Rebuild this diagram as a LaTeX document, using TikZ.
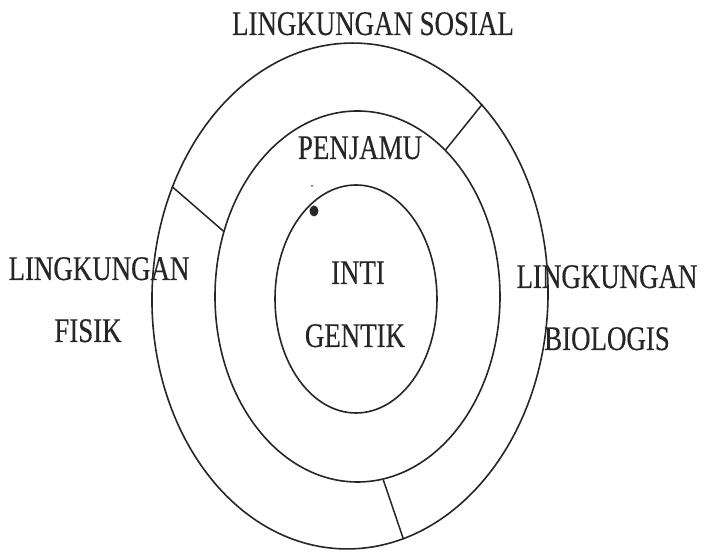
\documentclass[tikz,border=0pt]{standalone}
\usepackage{fontspec}
\setmainfont[FakeStretch=0.78,FakeBold=0.3]{Liberation Serif}
\usetikzlibrary{shapes.geometric}
\begin{document}
\begin{tikzpicture}[x=1pt,y=1pt,
  ring/.style={draw=black!85, line width=1.6pt, ellipse, inner sep=0pt, fill=none},
  sep/.style={draw=black!85, line width=1.5pt},
  lbl/.style={anchor=base, inner sep=0pt, text=black!85, font=\fontsize{34.5}{40}\selectfont}]
\useasboundingbox (0,0) rectangle (705,553);
\fill[white] (0,0) rectangle (705,553);
% rings
\node[ring, minimum width=396pt, minimum height=506pt, rotate=-1.6] (outer) at (350,257) {};
\node[ring, minimum width=285pt, minimum height=371pt] (middle) at (357.5,256.5) {};
\node[ring, minimum width=162pt, minimum height=228pt] (inner) at (356,254) {};
% separators
\draw[sep] (outer.57.8) -- (middle.59.9);
\draw[sep] (outer.150.1) -- (middle.154);
\draw[sep] (middle.278.7) -- (outer.284.9);
% blob and dot
\fill[black!85] (314,342) ellipse [x radius=4.5pt, y radius=5.5pt];
\fill[black!70] (312,367) circle [radius=1pt];
% labels
\node[lbl] (sosial) at (373,518) {LINGKUNGAN SOSIAL};
\node[lbl] (penjamu) at (360,394) {PENJAMU};
\node[lbl] (inti) at (358,269) {INTI};
\node[lbl] (gentik) at (355,206) {GENTIK};
\node[lbl] (fisik1) at (99,273) {LINGKUNGAN};
\node[lbl] (fisik2) at (88,211) {FISIK};
\node[lbl] (bio1) at (607,265) {LINGKUNGAN};
\node[lbl] (bio2) at (607,203) {BIOLOGIS};
\end{tikzpicture}
\end{document}
